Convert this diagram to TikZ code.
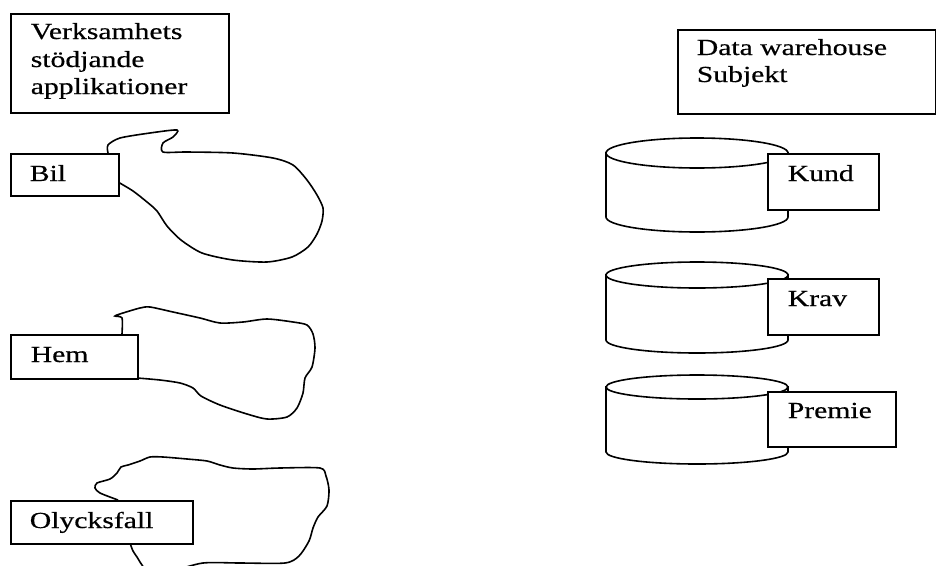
\documentclass[tikz,border=0pt]{standalone}
\usepackage{fontspec}
\setmainfont{Liberation Serif}[FakeStretch=1.29, FakeBold=0.5]
\begin{document}
\begin{tikzpicture}[x=1pt,y=-1pt,
  line width=1.6pt,
  box/.style={draw=black, fill=white, line width=1.6pt, inner sep=0pt, anchor=north west},
  lbl/.style={inner sep=0pt, anchor=base west, font=\fontsize{23}{27.5}\selectfont},
  blob/.style={draw=black, line width=1.6pt, smooth, tension=0.45},
  cyl/.style={draw=black, line width=1.6pt, fill=white}]
\useasboundingbox (0,0) rectangle (936,565);
\begin{scope}
\clip (0,0) rectangle (936,565);

% application blobs
\draw[blob] plot coordinates {(108,153) (108,145) (120,138) (150,133) (177,130) (173,137) (163,143) (163,152) (187,152) (233,153) (273,158) (293,165) (307,180) (317,195) (323,208) (322,221) (317,234) (308,247) (292,257) (267,262) (233,260) (202,253) (181,240) (167,226) (157,211) (147,202) (133,191) (118,182)};

\draw[blob] plot coordinates {(122,334) (122,318) (115,316) (123,313) (140,308) (150,307) (173,312) (200,318) (220,323) (243,322) (267,319) (293,322) (307,325) (313,334) (315,348) (312,367) (305,378) (303,393) (297,408) (287,417) (267,419) (247,414) (220,405) (201,396) (193,388) (180,383) (160,380) (137,378)};

\draw[blob] plot coordinates {(118,500) (100,493) (95,488) (97,483) (110,479) (117,473) (121,467) (128,465) (140,461) (150,457) (163,457) (187,459) (207,461) (220,465) (233,468) (253,469) (280,468) (320,468) (326,476) (329,490) (327,506) (318,517) (313,528) (309,541) (299,556) (285,563) (240,563) (203,563) (172,571) (150,574) (142,565) (137,557) (133,551) (130,543)};
\end{scope}

% left boxes
\node[box, minimum width=218pt, minimum height=99pt] (apps) at (10,13) {};
\node[lbl] (appsA) at (30,39) {Verksamhets};
\node[lbl] (appsB) at (30,67) {stödjande};
\node[lbl] (appsC) at (30,94) {applikationer};

\node[box, minimum width=108pt, minimum height=42pt] (bil) at (10,153) {};
\node[lbl] (bilt) at (29,181) {Bil};

\node[box, minimum width=127pt, minimum height=44pt] (hem) at (10,334) {};
\node[lbl] (hemt) at (30,362) {Hem};

\node[box, minimum width=182pt, minimum height=43pt] (oly) at (10,500) {};
\node[lbl] (olyt) at (29,528) {Olycksfall};

% data warehouse heading
\node[box, minimum width=258pt, minimum height=84pt] (dw) at (677,29) {};
\node[lbl] (dwA) at (696,55) {Data warehouse};
\node[lbl] (dwB) at (696,82) {Subjekt};

% subject cylinders: body, then top ellipse
\foreach \n/\t/\b/\r in {kund/153/217/15, krav/275/340/13, premie/387/452/12}{
  \path[cyl] (606,\t) -- (606,\b) arc[start angle=180, end angle=360, x radius=91pt, y radius=\r pt] -- (788,\t) -- cycle;
  \draw[cyl] (697,\t) ellipse[x radius=91pt, y radius=\r pt];
  \coordinate (\n cyl) at (697,\t);
}

\node[box, minimum width=111pt, minimum height=56pt] (kund) at (767,153) {};
\node[lbl] (kundt) at (787,181) {Kund};

\node[box, minimum width=111pt, minimum height=56pt] (krav) at (767,278) {};
\node[lbl] (kravt) at (787,306) {Krav};

\node[box, minimum width=128pt, minimum height=55pt] (premie) at (767,391) {};
\node[lbl] (premiet) at (787,418) {Premie};
\end{tikzpicture}
\end{document}
